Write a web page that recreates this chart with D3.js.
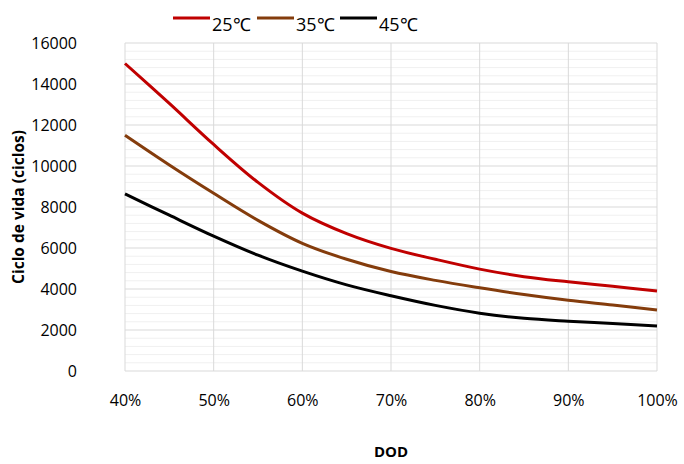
<!DOCTYPE html>
<html>
<head>
<meta charset="utf-8">
<script src="https://cdn.jsdelivr.net/npm/d3@7"></script>
<style>
  body { margin: 0; background: #fff; }
  text { font-family: "Open Sans", sans-serif; fill: #000; }
</style>
</head>
<body>
<div id="chart"></div>
<script>
// DOD (depth of discharge) in %
const dod = [40, 45, 50, 55, 60, 65, 70, 75, 80, 85, 90, 95, 100];
// cycle life per temperature
const cycles25 = [15000, 13050, 11050, 9200, 7700, 6700, 5980, 5450, 4970, 4600, 4350, 4130, 3900];
const cycles35 = [11500, 10050, 8670, 7350, 6230, 5450, 4850, 4420, 4060, 3730, 3450, 3220, 2980];
const cycles45 = [8640, 7600, 6580, 5650, 4870, 4200, 3670, 3200, 2820, 2570, 2430, 2320, 2200];
const seriesNames = ["25\u2103", "35\u2103", "45\u2103"];
const seriesColors = ["#c00000", "#843c0c", "#000000"];
const xTicks = [40, 50, 60, 70, 80, 90, 100];
const yTicks = [0, 2000, 4000, 6000, 8000, 10000, 12000, 14000, 16000];

const width = 684, height = 464;
const margin = { top: 43, right: 27, bottom: 93, left: 125 };

const svg = d3.select("#chart").append("svg")
  .attr("width", width)
  .attr("height", height);

const x = d3.scaleLinear().domain([40, 100]).range([margin.left, width - margin.right]);
const y = d3.scaleLinear().domain([0, 16000]).range([height - margin.bottom, margin.top]);

// minor grid every 400
svg.append("g")
  .selectAll("line")
  .data(d3.range(0, 16001, 400).filter(v => v % 2000 != 0))
  .enter().append("line")
  .attr("x1", x(40)).attr("x2", x(100))
  .attr("y1", d => y(d)).attr("y2", d => y(d))
  .attr("stroke", "#f0f0f0").attr("stroke-width", 1);

// major grid
svg.append("g")
  .selectAll("line")
  .data(yTicks)
  .enter().append("line")
  .attr("x1", x(40)).attr("x2", x(100))
  .attr("y1", d => y(d)).attr("y2", d => y(d))
  .attr("stroke", "#d9d9d9").attr("stroke-width", 1);

svg.append("g")
  .selectAll("line")
  .data(xTicks)
  .enter().append("line")
  .attr("x1", d => x(d)).attr("x2", d => x(d))
  .attr("y1", y(0)).attr("y2", y(16000))
  .attr("stroke", "#d9d9d9").attr("stroke-width", 1);

// axes labels
const yAxis = svg.append("g")
  .attr("transform", "translate(" + (margin.left - 45) + ",0)")
  .call(d3.axisLeft(y).tickValues(yTicks).tickSize(0).tickFormat(d3.format("d")));
yAxis.select(".domain").remove();
yAxis.selectAll("text").style("font-size", "16px").attr("dx", 0);

const xAxis = svg.append("g")
  .attr("transform", "translate(0," + (y(0) + 21) + ")")
  .call(d3.axisBottom(x).tickValues(xTicks).tickSize(0).tickFormat(d => d + "%"));
xAxis.select(".domain").remove();
xAxis.selectAll("text").style("font-size", "16px");

// lines
const allSeries = [cycles25, cycles35, cycles45];
const line = d3.line()
  .x((d, i) => x(dod[i]))
  .y(d => y(d))
  .curve(d3.curveCatmullRom);

svg.append("g")
  .selectAll("path")
  .data(allSeries)
  .enter().append("path")
  .attr("d", line)
  .attr("fill", "none")
  .attr("stroke", (d, i) => seriesColors[i])
  .attr("stroke-width", 3);

// legend
const legendX = [173, 257, 340];
const legend = svg.append("g")
  .selectAll("g")
  .data(seriesNames)
  .enter().append("g")
  .attr("transform", (d, i) => "translate(" + legendX[i] + ",18)");
legend.append("line")
  .attr("x1", 0).attr("x2", 37)
  .attr("stroke", (d, i) => seriesColors[i])
  .attr("stroke-width", 3);
legend.append("text")
  .attr("x", 39).attr("y", 13)
  .style("font-size", "18px")
  .text(d => d);

// axis titles
svg.append("text")
  .attr("transform", "translate(24," + ((y(0) + y(16000)) / 2) + ") rotate(-90)")
  .attr("text-anchor", "middle")
  .style("font-size", "15.5px")
  .style("font-weight", "bold")
  .text("Ciclo de vida (ciclos)");

svg.append("text")
  .attr("x", (x(40) + x(100)) / 2)
  .attr("y", 457)
  .attr("text-anchor", "middle")
  .style("font-size", "15px")
  .style("font-weight", "bold")
  .text("DOD");
</script>
</body>
</html>
